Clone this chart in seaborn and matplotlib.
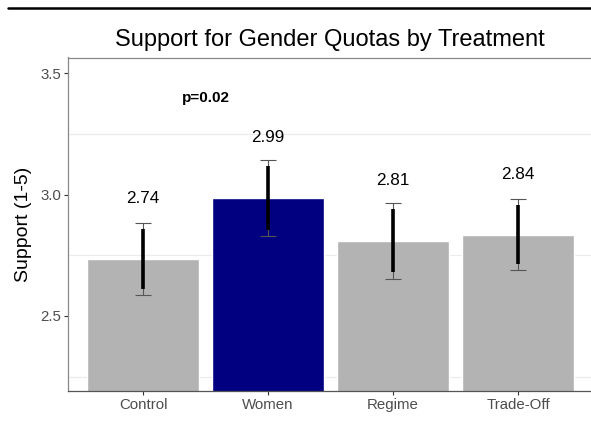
import matplotlib
matplotlib.use("Agg")
import matplotlib.pyplot as plt
from matplotlib.lines import Line2D
import seaborn as sns
import pandas as pd

categories = ["Control", "Women", "Regime", "Trade-Off"]
means = [2.734, 2.985, 2.81, 2.835]
ci95_low = [2.587, 2.828, 2.654, 2.690]
ci95_high = [2.884, 3.142, 2.967, 2.981]
ci90_low = [2.613, 2.854, 2.682, 2.714]
ci90_high = [2.858, 3.117, 2.942, 2.958]
value_labels = ["2.74", "2.99", "2.81", "2.84"]
bar_colors = ["#B3B3B3", "#000080", "#B3B3B3", "#B3B3B3"]
p_text = "p=0.02"
p_x = 0.5
p_y = 3.40
label_offset = 0.25
y_ticks = [2.5, 3.0, 3.5]
y_minor = [2.25, 2.75, 3.25]

sns.set_style("white")
plt.rcParams["font.family"] = ["Liberation Sans", "DejaVu Sans"]

df = pd.DataFrame({"cat": categories, "mean": means})

fig = plt.figure(figsize=(5.91, 4.29), dpi=100)
ax = fig.add_axes([68 / 591, 1 - 391 / 429, (593 - 68) / 591, (391 - 57.5) / 429])

for y in y_minor:
    ax.axhline(y, color="#EBEBEB", lw=0.8, zorder=0)

sns.barplot(data=df, x="cat", y="mean", hue="cat", palette=dict(zip(categories, bar_colors)),
            order=categories, legend=False, width=0.89, ax=ax, zorder=2, saturation=1)

xs = list(range(len(categories)))
lo95 = [m - l for m, l in zip(means, ci95_low)]
hi95 = [h - m for m, h in zip(means, ci95_high)]
lo90 = [m - l for m, l in zip(means, ci90_low)]
hi90 = [h - m for m, h in zip(means, ci90_high)]
ax.errorbar(xs, means, yerr=[lo95, hi95], fmt="none", ecolor="#555555", elinewidth=0.8,
            capsize=6, capthick=0.8, zorder=3)
ax.errorbar(xs, means, yerr=[lo90, hi90], fmt="none", ecolor="black", elinewidth=2.6,
            capsize=0, zorder=4)

for x, m, t in zip(xs, means, value_labels):
    ax.text(x, m + label_offset, t, ha="center", va="center", fontsize=12.3, color="black", zorder=5)

ax.text(p_x, p_y, p_text, ha="center", va="center", fontsize=11, fontweight="bold", color="black")

ax.set_xlim(-0.6, 3.6)
ax.set_ylim(2.191, 3.565)
ax.set_yticks(y_ticks)
ax.set_yticklabels([f"{v:.1f}" for v in y_ticks])
ax.set_xlabel("")
ax.set_ylabel("Support (1-5)", fontsize=14, color="black", labelpad=6)
ax.tick_params(axis="both", which="major", labelsize=10.8, labelcolor="#4D4D4D",
               color="#333333", length=3, width=0.8, bottom=True, left=True, pad=2)
for s in ["top", "left"]:
    ax.spines[s].set_color("#888888")
    ax.spines[s].set_linewidth(0.9)
ax.spines["right"].set_visible(False)
ax.spines["bottom"].set_color("#555555")
ax.spines["bottom"].set_linewidth(0.9)

fig.text(330 / 591, 1 - 40 / 429, "Support for Gender Quotas by Treatment",
         ha="center", va="center", fontsize=17, color="black")

fig.add_artist(Line2D([8 / 591, 1.0], [1 - 7.5 / 429, 1 - 7.5 / 429], color="black", lw=1.8,
                      transform=fig.transFigure))

fig.savefig("out.png", dpi=100)
